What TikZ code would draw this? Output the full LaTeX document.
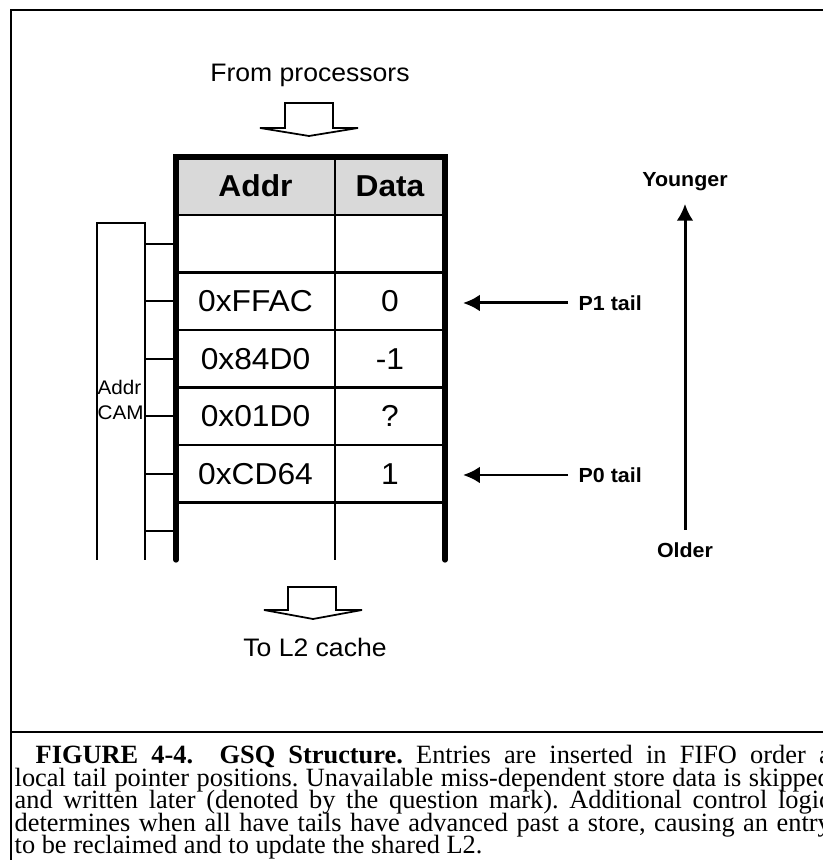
\documentclass[tikz,border=0pt]{standalone}
\usepackage{fontspec}
\setmainfont[FakeStretch=1.05]{Liberation Sans}
\newfontfamily\capfont{Liberation Serif}
\usetikzlibrary{arrows.meta}
\frenchspacing

\begin{document}
\begin{tikzpicture}[>={Latex[length=4.8pt,width=4.8pt]},
  every node/.style={inner sep=0pt},
  entry/.style={font=\fontsize{8.6}{10}\selectfont},
  hdr/.style={font=\fontsize{8.6}{10}\selectfont\bfseries},
  flow/.style={font=\fontsize{7.2}{8.6}\selectfont},
  side/.style={font=\fontsize{5.8}{7}\selectfont\bfseries},
  capline/.style={anchor=base west,font=\fontsize{7.5}{7.5}\capfont\selectfont}]
\useasboundingbox (0,0) rectangle (8.23,8.60);
\clip (0,0) rectangle (8.23,8.60);
% ==================== FRAME ====================
\draw[line width=0.8pt] (0.11,-0.2) -- (0.11,8.50) -- (8.5,8.50);
\draw[line width=0.8pt] (0.11,1.28) -- (8.5,1.28);

% ==================== GSQ TABLE ====================
% Header row
\fill[black!15] (1.76,6.45) rectangle (4.45,7.03);
\node[hdr] (addrhdr) at (2.555,6.74) {Addr};
\node[hdr] (datahdr) at (3.90,6.74) {Data};
% Row separators
\foreach \y in {6.45,5.875,5.30,4.725,4.15,3.575}
  \draw[line width=0.6pt] (1.76,\y) -- (4.45,\y);
\draw[line width=0.6pt] (3.35,7.03) -- (3.35,3.00);
% Outer walls (open at the bottom)
\draw[line width=1.5pt, line cap=round] (1.76,3.00) -- (1.76,7.03) -- (4.45,7.03) -- (4.45,3.00);
% Entries
\foreach \a/\d [count=\i] in {0xFFAC/0, 0x84D0/-1, 0x01D0/?, 0xCD64/1}{
  \node[entry] (addr\i) at (2.555,{6.1625-0.575*\i}) {\a};
  \node[entry] (data\i) at (3.90,{6.1625-0.575*\i}) {\d};
}

% ==================== ADDR CAM ====================
\draw[line width=0.5pt] (0.97,3.00) -- (0.97,6.37) -- (1.45,6.37) -- (1.45,3.00);
\foreach \i in {0,...,5}
  \draw[line width=0.5pt] (1.45,{6.1625-0.575*\i}) -- (1.76,{6.1625-0.575*\i});
\node[font=\fontsize{5.6}{7}\selectfont, anchor=west, align=left] (cam) at (0.97,4.60) {Addr\\CAM};

% ==================== IN / OUT ====================
\node[flow] (fromproc) at (3.10,7.85) {From processors};
\draw[line width=0.5pt, fill=white] (2.85,7.57) -- (2.85,7.32) -- (2.60,7.32) -- (3.09,7.24)
  -- (3.58,7.32) -- (3.33,7.32) -- (3.33,7.57) -- cycle;
\draw[line width=0.5pt, fill=white] (2.88,2.73) -- (2.88,2.50) -- (2.64,2.50) -- (3.13,2.41)
  -- (3.62,2.50) -- (3.36,2.50) -- (3.36,2.73) -- cycle;
\node[flow] (tol2) at (3.15,2.13) {To L2 cache};

% ==================== TAIL POINTERS ====================
\node[side, anchor=west] (p1) at (5.78,5.57) {P1 tail};
\node[side, anchor=west] (p0) at (5.78,3.85) {P0 tail};
\coordinate (p1tip) at (4.63,5.57);
\coordinate (p0tip) at (4.63,3.85);
\draw[->, line width=0.85pt] ([xshift=-0.1cm]p1.west) -- (p1tip);
\draw[->, line width=0.85pt] ([xshift=-0.1cm]p0.west) -- (p0tip);
% Age axis
\node[side] (younger) at (6.85,6.78) {Younger};
\node[side] (older) at (6.85,3.10) {Older};
\draw[->, line width=0.85pt] ([yshift=0.12cm]older.north) -- ([yshift=-0.12cm]younger.south);

% ==================== CAPTION ====================
\node[capline] (cap1) at (0.35,0.96) {\makebox[7.95cm][s]{\textbf{FIGURE 4-4.\ \ GSQ Structure.} Entries are inserted in FIFO order a}};
\node[capline] (cap2) at (0.14,0.735) {\makebox[8.16cm][s]{local tail pointer positions. Unavailable miss-dependent store data is skipped}};
\node[capline] (cap3) at (0.14,0.51) {\makebox[8.16cm][s]{and written later (denoted by the question mark). Additional control logic}};
\node[capline] (cap4) at (0.14,0.285) {\makebox[8.16cm][s]{determines when all have tails have advanced past a store, causing an entry}};
\node[capline] (cap5) at (0.14,0.06) {to be reclaimed and to update the shared L2.};
\end{tikzpicture}
\end{document}
